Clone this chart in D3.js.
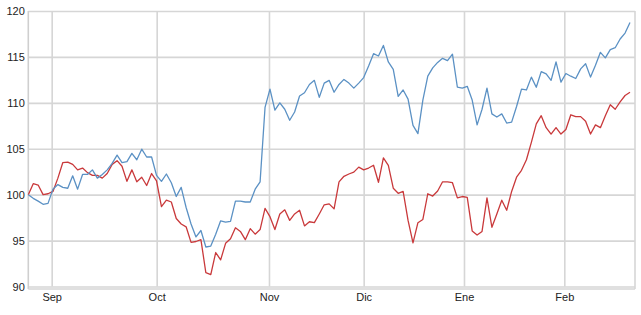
<!DOCTYPE html>
<html>
<head>
<meta charset="utf-8">
<script src="https://d3js.org/d3.v7.min.js"></script>
<style>
	body { margin: 0; background: #fff; }
	.axis text { font-family: "Liberation Sans", Arial, sans-serif; font-size: 11px; fill: #222; }
	.axis path { display: none; }
	.grid line { stroke: #d6d6d6; stroke-width: 1.6px; }
	.grid path { display: none; }
	.line { fill: none; stroke-width: 1.3px; stroke-linejoin: round; }
</style>
</head>
<body>
<div id="chart"></div>
<script>

// Series values, one per trading day (late Aug -> mid Feb)
var blueValues = [100.0, 99.6, 99.3, 98.95, 99.05, 100.6, 101.1, 100.8, 100.7, 102.05,
	100.6, 102.2, 102.2, 102.7, 101.8, 102.2, 102.7, 103.4, 104.3, 103.5,
	103.6, 104.5, 103.8, 104.95, 104.1, 104.1, 102.1, 101.45, 102.25, 101.3,
	99.8, 100.8, 98.6, 96.8, 95.4, 96.1, 94.3, 94.4, 95.7, 97.15,
	97.0, 97.1, 99.3, 99.3, 99.2, 99.2, 100.6, 101.4, 109.5, 111.5,
	109.2, 110.0, 109.3, 108.1, 109.0, 110.75, 111.1, 112.0, 112.45, 110.6,
	112.15, 112.45, 111.15, 112.0, 112.55, 112.15, 111.6, 112.15, 112.75, 114.0,
	115.35, 115.1, 116.25, 114.45, 113.65, 110.7, 111.4, 110.4, 107.55, 106.65,
	110.3, 112.9, 113.8, 114.4, 114.85, 114.6, 115.3, 111.7, 111.6, 111.8,
	110.3, 107.6, 109.3, 111.6, 108.8, 108.45, 108.8, 107.8, 107.9, 109.6,
	111.5, 111.4, 112.8, 111.7, 113.4, 113.15, 112.45, 114.45, 112.25, 113.2,
	112.9, 112.65, 113.7, 114.25, 112.8, 114.1, 115.5, 114.9, 115.8, 116.0,
	116.95, 117.6, 118.75];

var redValues = [100.0, 101.2, 101.05, 100.0, 100.1, 100.35, 101.8, 103.5, 103.55, 103.3,
	102.7, 102.9, 102.4, 102.1, 102.1, 101.8, 102.3, 103.3, 103.7, 103.1,
	101.45, 102.7, 101.4, 101.9, 101.0, 102.3, 101.5, 98.7, 99.4, 99.2,
	97.4, 96.8, 96.5, 94.8, 94.9, 95.1, 91.5, 91.3, 93.7, 92.9,
	94.7, 95.2, 96.4, 96.0, 95.1, 96.3, 95.7, 96.2, 98.5, 97.6,
	96.2, 97.9, 98.35, 97.2, 97.9, 98.3, 96.6, 97.05, 96.95, 97.9,
	98.9, 99.0, 98.45, 101.4, 102.0, 102.25, 102.45, 103.0, 102.7, 102.9,
	103.2, 101.35, 104.0, 103.2, 100.7, 100.15, 100.35, 97.2, 94.75, 96.95,
	97.3, 100.1, 99.85, 100.4, 101.4, 101.4, 101.3, 99.65, 99.8, 99.7,
	96.05, 95.6, 96.0, 99.65, 96.45, 97.9, 99.4, 98.3, 100.35, 101.9,
	102.65, 103.8, 105.7, 107.7, 108.6, 107.3, 106.6, 107.3, 106.6, 107.1,
	108.7, 108.5, 108.5, 108.0, 106.6, 107.6, 107.3, 108.6, 109.8, 109.3,
	110.1, 110.8, 111.15];

// Month starts (in trading-day index) and their labels
var monthTicks = [4.74, 26.03, 48.8, 68.0, 88.34, 108.68];
var monthLabels = ["Sep", "Oct", "Nov", "Dic", "Ene", "Feb"];

var yTicks = [90, 95, 100, 105, 110, 115, 120];


var margin = { top: 11, right: 6, bottom: 28.5, left: 28.3 };
var width = 641 - margin.left - margin.right,
	height = 315 - margin.top - margin.bottom;

var svg = d3.select("#chart").append("svg")
	.attr("width", 641)
	.attr("height", 315)
	.append("g")
	.attr("transform", "translate(" + margin.left + "," + margin.top + ")");

// Scales
var x = d3.scaleLinear()
	.domain([0, blueValues.length - 1])
	.range([0, width - 5]);

var y = d3.scaleLinear()
	.domain([90, 120])
	.range([height, 0]);

// Horizontal grid
svg.append("g")
	.attr("class", "grid")
	.call(d3.axisLeft(y).tickValues(yTicks).tickSize(-width).tickFormat(""));

// Vertical grid at month starts
svg.append("g")
	.attr("class", "grid")
	.attr("transform", "translate(0," + height + ")")
	.call(d3.axisBottom(x).tickValues(monthTicks).tickSize(-height).tickFormat(""));

// Frame: left, right and bottom lines
svg.append("line")
	.attr("x1", 0).attr("x2", 0)
	.attr("y1", 0).attr("y2", height + 2.5)
	.style("stroke", "#cfcfcf").style("stroke-width", 1.6);

svg.append("line")
	.attr("x1", width).attr("x2", width)
	.attr("y1", 0).attr("y2", height + 2.5)
	.style("stroke", "#d6d6d6").style("stroke-width", 1.6);

svg.append("line")
	.attr("x1", 0).attr("x2", width)
	.attr("y1", height + 2.5).attr("y2", height + 2.5)
	.style("stroke", "#d6d6d6").style("stroke-width", 1.6);

// Axes (labels only)
svg.append("g")
	.attr("class", "y-axis axis")
	.call(d3.axisLeft(y).tickValues(yTicks).tickSize(0).tickPadding(3.5));

svg.append("g")
	.attr("class", "x-axis axis")
	.attr("transform", "translate(0," + height + ")")
	.call(d3.axisBottom(x).tickValues(monthTicks).tickSize(0).tickPadding(6.5)
		.tickFormat(function (d, i) { return monthLabels[i]; }));

// Lines
var line = d3.line()
	.x(function (d, i) { return x(i); })
	.y(function (d) { return y(d); });

svg.append("path")
	.datum(redValues)
	.attr("class", "line")
	.style("stroke", "#c9393b")
	.attr("d", line);

svg.append("path")
	.datum(blueValues)
	.attr("class", "line")
	.style("stroke", "#5b91c4")
	.attr("d", line);

</script>
</body>
</html>
